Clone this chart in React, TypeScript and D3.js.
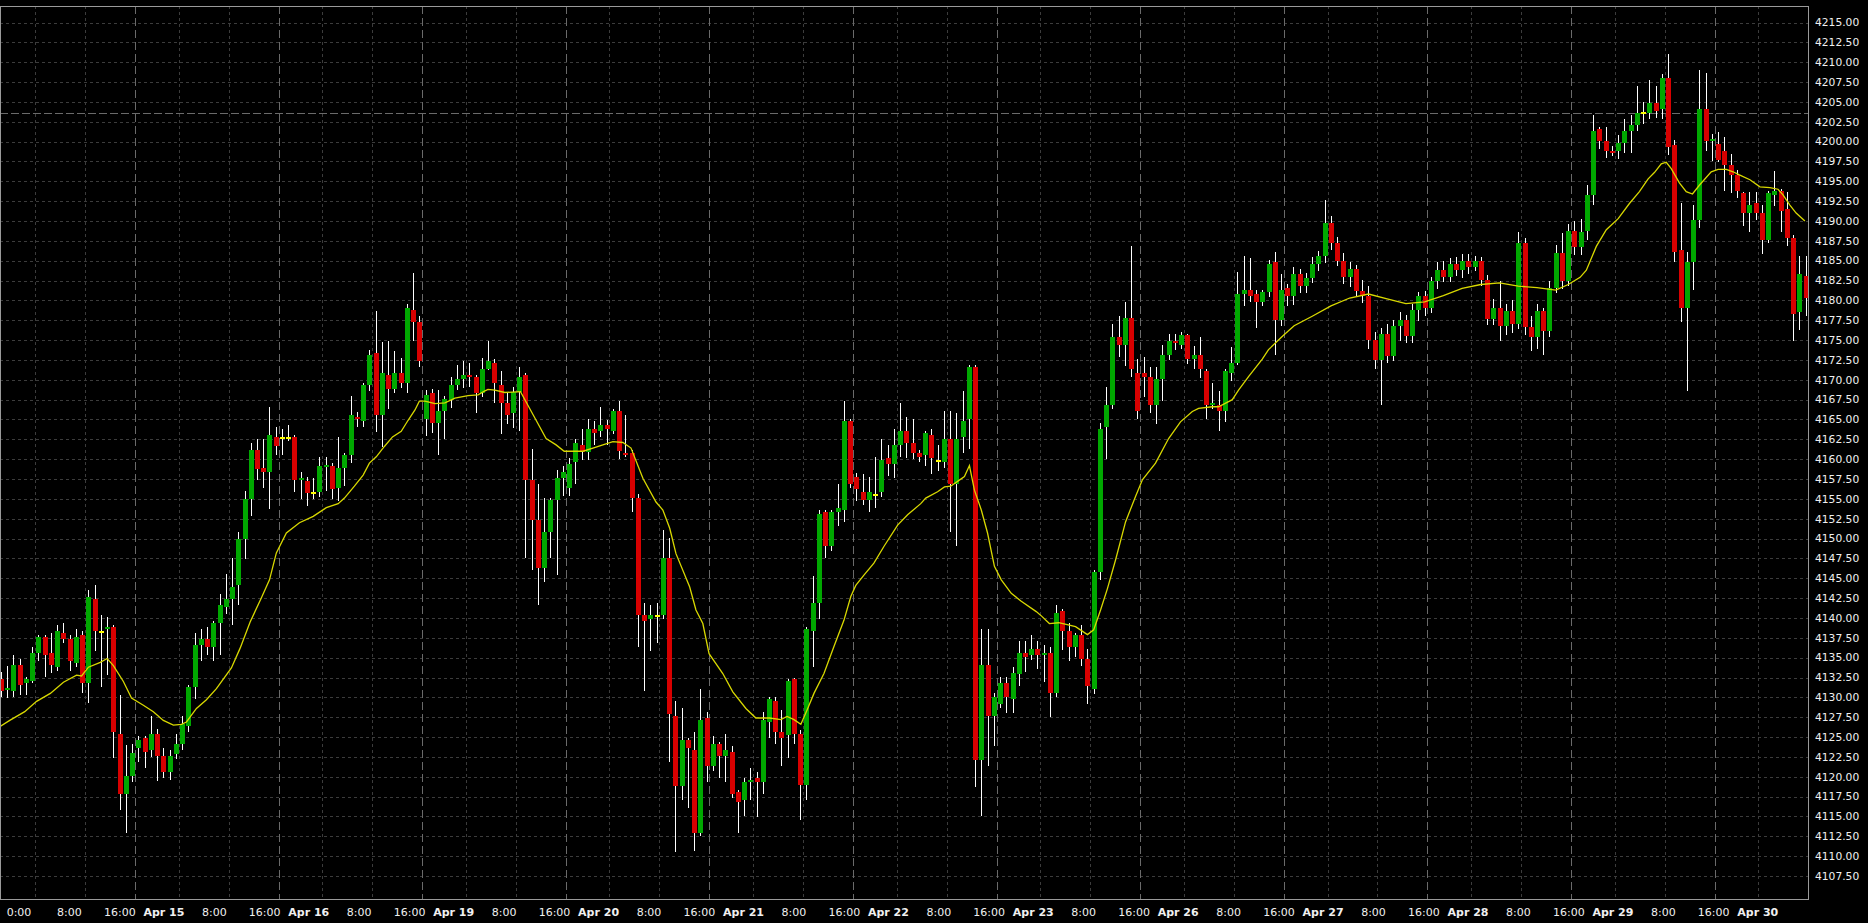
import React from 'react';
import * as d3 from 'd3';

const W = 1868;
const H = 923;
const PLOT_L = 0;
const PLOT_T = 6;
const PLOT_R = 1808;
const PLOT_B = 899;

// ---- OHLC (H1 bars, index 0..289) ----
const opens = [
  4132.3, 4131.0, 4130.8, 4134.1, 4131.8, 4132.1, 4135.6, 4137.6, 4135.6, 4133.8,
  4138.1, 4137.4, 4134.3, 4137.9, 4131.8, 4142.4, 4138.2, 4138.7, 4138.9, 4125.4,
  4117.8, 4120.1, 4123.6, 4124.9, 4123.4, 4125.4, 4122.6, 4120.6, 4122.9, 4124.1,
  4126.4, 4131.3, 4136.6, 4137.4, 4136.3, 4139.4, 4141.4, 4142.4, 4144.2, 4150.0,
  4155.0, 4161.2, 4158.9, 4158.4, 4162.8, 4162.7, 4162.7, 4162.8, 4157.4, 4157.2,
  4155.8, 4155.9, 4159.1, 4159.2, 4156.4, 4158.9, 4160.5, 4165.3, 4164.8, 4169.4,
  4173.4, 4165.6, 4170.6, 4168.9, 4170.9, 4169.6, 4178.8, 4177.3, 4165.1, 4168.3,
  4164.6, 4166.1, 4167.5, 4169.4, 4170.1, 4170.6, 4170.4, 4168.3, 4171.4, 4172.1,
  4169.4, 4167.1, 4165.8, 4168.5, 4170.6, 4157.4, 4152.3, 4146.3, 4150.8, 4154.9,
  4157.6, 4156.4, 4159.6, 4161.8, 4160.9, 4163.8, 4163.5, 4164.3, 4163.5, 4166.1,
  4160.8, 4160.8, 4155.1, 4140.4, 4139.9, 4140.3, 4140.4, 4147.6, 4127.7, 4118.8,
  4124.6, 4123.4, 4112.9, 4127.4, 4121.4, 4124.1, 4122.6, 4123.1, 4118.1, 4117.1,
  4119.4, 4119.9, 4119.4, 4126.9, 4129.5, 4125.7, 4125.2, 4132.3, 4125.4, 4118.9,
  4138.4, 4141.9, 4153.3, 4149.1, 4153.3, 4153.6, 4164.8, 4157.7, 4155.9, 4154.9,
  4155.5, 4155.9, 4160.1, 4159.4, 4161.8, 4163.6, 4162.0, 4160.8, 4160.5, 4163.0,
  4159.8, 4159.6, 4162.5, 4156.9, 4162.8, 4165.1, 4171.6, 4122.1, 4134.1, 4127.7,
  4129.2, 4131.8, 4129.8, 4132.9, 4135.6, 4135.3, 4136.1, 4135.3, 4135.6, 4130.6,
  4140.9, 4138.4, 4136.3, 4137.9, 4134.8, 4131.1, 4145.8, 4164.0, 4166.8, 4175.4,
  4174.4, 4177.8, 4170.9, 4170.9, 4170.4, 4166.8, 4170.1, 4173.1, 4174.9, 4174.4,
  4175.6, 4172.6, 4173.1, 4171.1, 4166.8, 4166.8, 4166.1, 4170.9, 4172.1, 4180.8,
  4181.3, 4180.8, 4179.8, 4181.1, 4184.8, 4177.5, 4181.6, 4180.6, 4183.3, 4181.8,
  4182.8, 4184.6, 4185.6, 4189.8, 4187.2, 4185.0, 4183.0, 4184.0, 4181.2, 4180.5,
  4175.0, 4172.5, 4175.8, 4173.0, 4176.8, 4177.5, 4175.5, 4178.8, 4180.5, 4179.0,
  4182.5, 4183.8, 4183.0, 4184.6, 4183.8, 4184.9, 4184.2, 4185.0, 4182.6, 4177.6,
  4179.0, 4176.8, 4178.6, 4177.0, 4187.2, 4176.6, 4175.4, 4178.6, 4176.2, 4181.5,
  4186.0, 4182.5, 4188.8, 4186.7, 4188.7, 4193.3, 4201.6, 4200.1, 4198.8, 4198.8,
  4199.8, 4201.3, 4202.1, 4203.6, 4203.6, 4204.9, 4204.1, 4208.0, 4199.6, 4186.4,
  4179.0, 4184.8, 4190.1, 4204.1, 4200.1, 4199.7, 4198.8, 4197.1, 4195.8, 4193.5,
  4191.0, 4192.3, 4191.0, 4187.6, 4193.3, 4193.8, 4191.5, 4187.9, 4178.5, 4183.1,
];

const highs = [
  4133.2, 4133.9, 4135.3, 4134.8, 4132.6, 4136.3, 4137.9, 4137.9, 4138.1, 4139.1,
  4139.4, 4137.9, 4138.6, 4138.4, 4143.5, 4144.2, 4140.4, 4140.1, 4139.1, 4130.3,
  4124.0, 4124.1, 4125.1, 4125.1, 4127.7, 4126.0, 4123.6, 4123.4, 4125.4, 4127.7,
  4131.6, 4138.1, 4138.6, 4138.9, 4139.6, 4143.0, 4145.5, 4147.5, 4150.8, 4156.0,
  4162.0, 4162.5, 4162.5, 4166.6, 4164.1, 4163.8, 4164.3, 4163.0, 4158.4, 4157.8,
  4157.6, 4160.3, 4160.3, 4159.5, 4162.8, 4160.8, 4167.9, 4165.9, 4169.6, 4173.7,
  4178.6, 4174.7, 4174.9, 4173.6, 4172.7, 4179.6, 4183.5, 4178.0, 4168.7, 4168.8,
  4168.7, 4167.9, 4170.4, 4171.9, 4172.4, 4172.1, 4170.6, 4172.8, 4174.9, 4172.6,
  4171.1, 4168.3, 4169.1, 4171.6, 4170.9, 4161.3, 4156.9, 4155.1, 4155.1, 4158.6,
  4159.1, 4160.1, 4162.5, 4163.8, 4165.1, 4164.8, 4166.6, 4164.9, 4166.3, 4167.3,
  4165.6, 4161.2, 4155.6, 4141.9, 4141.6, 4141.9, 4151.1, 4150.1, 4129.5, 4128.6,
  4124.9, 4125.6, 4131.1, 4128.1, 4125.1, 4124.4, 4125.4, 4123.9, 4118.3, 4119.9,
  4121.1, 4120.6, 4128.1, 4130.1, 4130.1, 4128.4, 4132.3, 4132.5, 4125.9, 4138.9,
  4145.3, 4153.6, 4153.6, 4153.6, 4156.9, 4167.3, 4165.1, 4158.2, 4158.1, 4157.7,
  4160.3, 4162.6, 4161.8, 4163.8, 4167.1, 4165.3, 4165.1, 4161.2, 4163.6, 4163.8,
  4161.8, 4166.1, 4166.1, 4165.8, 4168.6, 4171.9, 4171.9, 4138.6, 4138.6, 4130.5,
  4132.6, 4132.6, 4133.8, 4137.1, 4137.1, 4137.8, 4137.1, 4136.6, 4136.3, 4141.6,
  4141.1, 4139.4, 4138.1, 4139.1, 4136.1, 4146.0, 4164.5, 4169.1, 4177.0, 4178.0,
  4179.8, 4186.8, 4172.6, 4172.9, 4171.6, 4171.6, 4174.4, 4175.8, 4175.8, 4176.0,
  4175.8, 4174.2, 4175.4, 4171.4, 4169.6, 4168.6, 4171.4, 4174.1, 4183.6, 4185.6,
  4185.3, 4181.3, 4181.3, 4185.1, 4186.1, 4183.3, 4182.1, 4184.2, 4184.0, 4183.5,
  4185.5, 4186.2, 4192.6, 4190.6, 4188.0, 4186.0, 4184.8, 4184.5, 4182.6, 4181.8,
  4176.0, 4176.5, 4177.0, 4177.5, 4178.5, 4178.2, 4179.5, 4181.0, 4181.2, 4183.0,
  4184.8, 4185.0, 4185.3, 4185.5, 4185.8, 4185.8, 4185.6, 4185.5, 4183.2, 4180.2,
  4182.5, 4179.6, 4180.0, 4188.6, 4187.8, 4178.0, 4179.5, 4179.0, 4182.5, 4187.0,
  4188.5, 4189.6, 4190.0, 4190.2, 4194.5, 4203.4, 4201.8, 4201.8, 4199.5, 4200.8,
  4202.9, 4203.4, 4207.0, 4205.0, 4207.8, 4207.0, 4208.5, 4211.0, 4200.2, 4192.3,
  4186.1, 4192.0, 4209.0, 4208.6, 4201.0, 4201.2, 4200.6, 4198.5, 4196.4, 4193.7,
  4193.7, 4193.7, 4192.0, 4193.8, 4196.3, 4194.0, 4193.7, 4188.2, 4185.6, 4185.6,
];

const lows = [
  4130.2, 4130.0, 4130.2, 4130.4, 4130.4, 4131.9, 4134.7, 4132.7, 4133.2, 4133.5,
  4137.0, 4133.4, 4134.0, 4130.7, 4129.4, 4136.0, 4131.4, 4133.0, 4122.5, 4115.9,
  4113.0, 4119.5, 4122.0, 4121.2, 4122.6, 4119.6, 4120.0, 4119.7, 4122.3, 4123.5,
  4125.8, 4129.9, 4134.7, 4135.5, 4134.7, 4135.5, 4140.6, 4139.3, 4141.8, 4147.5,
  4153.0, 4157.5, 4156.5, 4153.8, 4160.7, 4160.7, 4162.4, 4156.0, 4155.1, 4154.2,
  4155.1, 4155.3, 4156.1, 4155.1, 4154.9, 4156.8, 4159.6, 4164.2, 4164.2, 4168.7,
  4163.5, 4161.7, 4166.5, 4168.5, 4169.1, 4168.5, 4175.0, 4171.7, 4163.0, 4163.4,
  4160.7, 4162.7, 4166.6, 4168.9, 4169.1, 4169.2, 4166.0, 4168.0, 4171.3, 4167.2,
  4163.3, 4164.6, 4164.0, 4163.7, 4147.7, 4146.2, 4141.8, 4144.6, 4147.7, 4145.5,
  4155.5, 4155.5, 4157.0, 4160.0, 4160.0, 4161.9, 4162.9, 4161.9, 4163.3, 4160.2,
  4160.4, 4153.5, 4136.5, 4130.9, 4136.0, 4137.0, 4140.0, 4122.0, 4110.6, 4117.2,
  4116.2, 4110.8, 4112.7, 4119.5, 4120.8, 4120.0, 4119.5, 4117.5, 4113.1, 4115.2,
  4117.2, 4115.0, 4118.0, 4125.0, 4124.3, 4121.5, 4122.5, 4124.3, 4114.7, 4117.2,
  4134.0, 4140.0, 4147.7, 4148.5, 4151.7, 4152.2, 4156.5, 4154.9, 4154.3, 4153.5,
  4154.0, 4155.3, 4158.0, 4157.8, 4160.4, 4160.3, 4160.2, 4159.8, 4159.3, 4158.3,
  4158.6, 4159.0, 4151.0, 4149.2, 4160.9, 4161.4, 4118.8, 4115.2, 4121.5, 4124.0,
  4128.8, 4128.1, 4128.1, 4131.5, 4133.3, 4134.8, 4133.7, 4132.0, 4127.6, 4130.2,
  4136.1, 4134.7, 4135.2, 4134.1, 4129.3, 4130.5, 4144.9, 4160.2, 4166.5, 4173.0,
  4171.8, 4170.5, 4165.2, 4168.0, 4165.9, 4164.5, 4167.5, 4172.6, 4173.9, 4174.0,
  4172.1, 4171.5, 4170.4, 4165.2, 4166.4, 4163.7, 4164.8, 4170.0, 4172.0, 4179.4,
  4179.9, 4176.7, 4179.4, 4180.6, 4173.2, 4176.9, 4179.4, 4179.5, 4181.0, 4181.0,
  4182.3, 4183.8, 4184.8, 4186.5, 4184.5, 4182.2, 4181.8, 4180.5, 4179.8, 4174.0,
  4171.5, 4167.0, 4172.2, 4172.5, 4175.0, 4174.8, 4174.8, 4177.5, 4178.2, 4178.5,
  4181.5, 4182.5, 4182.4, 4183.2, 4183.0, 4183.5, 4183.8, 4182.0, 4177.0, 4177.0,
  4175.0, 4175.8, 4176.0, 4176.5, 4175.8, 4173.8, 4174.0, 4173.2, 4175.5, 4181.0,
  4181.5, 4182.0, 4185.8, 4185.9, 4187.7, 4192.2, 4199.2, 4198.0, 4198.3, 4197.9,
  4198.7, 4198.7, 4201.5, 4202.4, 4203.0, 4203.1, 4203.0, 4198.4, 4185.0, 4177.4,
  4168.7, 4181.4, 4189.3, 4199.0, 4197.7, 4197.6, 4193.9, 4193.7, 4193.0, 4189.5,
  4188.8, 4190.3, 4186.0, 4187.3, 4192.0, 4188.7, 4187.0, 4175.0, 4176.4, 4178.2,
];

const closes = [
  4130.8, 4131.2, 4134.1, 4131.6, 4132.3, 4135.6, 4137.6, 4135.3, 4134.1, 4138.4,
  4137.4, 4134.6, 4137.6, 4131.8, 4142.6, 4138.4, 4138.2, 4138.9, 4125.6, 4117.8,
  4120.1, 4123.0, 4124.6, 4123.1, 4125.4, 4122.6, 4120.6, 4122.6, 4124.1, 4126.6,
  4131.3, 4136.6, 4137.4, 4136.3, 4139.4, 4141.6, 4142.4, 4143.9, 4150.0, 4155.0,
  4161.2, 4158.8, 4158.4, 4163.1, 4161.6, 4162.7, 4162.7, 4157.4, 4157.6, 4155.7,
  4155.8, 4159.2, 4159.3, 4156.2, 4158.9, 4160.5, 4165.6, 4165.1, 4169.4, 4173.1,
  4165.6, 4170.9, 4168.9, 4170.9, 4169.6, 4179.0, 4177.3, 4172.4, 4168.1, 4164.6,
  4166.1, 4167.6, 4169.4, 4170.1, 4170.6, 4170.4, 4168.3, 4171.4, 4172.4, 4169.6,
  4167.1, 4165.6, 4168.5, 4170.4, 4157.4, 4152.3, 4146.3, 4150.8, 4154.9, 4157.6,
  4158.4, 4159.4, 4162.0, 4160.9, 4163.8, 4163.3, 4164.3, 4163.8, 4166.1, 4161.0,
  4160.5, 4155.1, 4140.4, 4139.6, 4140.4, 4140.3, 4147.6, 4127.9, 4118.8, 4124.6,
  4123.6, 4112.9, 4127.2, 4121.3, 4124.1, 4122.6, 4123.4, 4117.8, 4116.8, 4119.4,
  4119.6, 4119.4, 4127.2, 4129.8, 4125.7, 4124.9, 4132.1, 4125.4, 4118.9, 4138.6,
  4141.9, 4153.1, 4149.1, 4153.3, 4153.8, 4164.8, 4156.9, 4156.2, 4154.9, 4155.9,
  4155.5, 4159.9, 4159.4, 4161.8, 4163.6, 4162.0, 4160.8, 4160.3, 4163.3, 4160.1,
  4159.8, 4162.5, 4156.9, 4162.5, 4164.8, 4171.6, 4122.1, 4134.1, 4127.7, 4130.1,
  4131.8, 4130.1, 4133.1, 4135.6, 4135.1, 4136.1, 4135.3, 4135.6, 4130.6, 4140.6,
  4138.4, 4136.3, 4137.9, 4134.8, 4131.4, 4145.8, 4163.8, 4166.8, 4175.4, 4174.4,
  4177.8, 4171.4, 4166.1, 4170.4, 4166.8, 4170.1, 4173.1, 4174.9, 4174.6, 4175.6,
  4172.6, 4173.1, 4171.4, 4166.8, 4167.1, 4166.1, 4171.1, 4172.1, 4180.8, 4181.3,
  4180.6, 4179.8, 4181.1, 4184.6, 4177.5, 4181.3, 4180.6, 4183.3, 4181.8, 4182.8,
  4184.6, 4185.6, 4189.8, 4187.2, 4185.0, 4183.0, 4184.0, 4181.2, 4180.5, 4175.0,
  4172.5, 4175.8, 4173.0, 4176.8, 4177.5, 4175.5, 4178.8, 4180.5, 4179.0, 4182.5,
  4183.8, 4183.0, 4184.6, 4183.8, 4184.9, 4184.2, 4185.0, 4182.6, 4177.6, 4179.0,
  4176.8, 4178.6, 4177.0, 4187.2, 4176.6, 4175.4, 4178.6, 4176.2, 4181.5, 4186.0,
  4182.5, 4188.8, 4186.7, 4188.6, 4193.3, 4201.3, 4200.1, 4198.8, 4198.6, 4199.8,
  4201.3, 4202.1, 4203.6, 4203.6, 4204.9, 4203.9, 4208.0, 4199.3, 4186.1, 4179.0,
  4184.8, 4190.1, 4204.1, 4200.1, 4200.3, 4197.7, 4197.1, 4195.8, 4193.8, 4191.0,
  4192.0, 4191.0, 4187.6, 4193.5, 4193.8, 4191.3, 4187.9, 4178.3, 4183.3, 4180.3,
];

// ---- Moving average line (bar index, price) ----
const maIndex = [
  -0.2, 1.4, 3.8, 5.7, 7.9, 10.0, 12.1, 12.9, 14.0, 15.9, 17.0, 18.0, 19.6, 20.9, 22.8, 24.4, 26.0, 27.6, 28.9, 29.7,
  31.3, 32.9, 34.5, 36.9, 38.3, 39.9, 41.8, 43.0, 44.1, 45.7, 47.8, 50.0, 52.1, 54.0, 55.0, 56.6, 58.0, 59.0, 60.1, 61.4,
  62.7, 64.1, 65.2, 66.3, 67.0, 67.9, 69.5, 71.1, 72.7, 74.8, 76.4, 77.5, 78.0, 79.1, 80.7, 83.2, 84.1, 85.7, 87.3, 88.9,
  90.2, 91.8, 93.2, 94.8, 96.4, 98.0, 99.6, 100.9, 102.8, 104.9, 106.0, 107.1, 108.1, 110.3, 111.3, 112.4, 113.4, 115.6, 117.2, 119.3,
  120.9, 123.1, 124.9, 125.9, 127.0, 128.1, 129.1, 130.2, 131.8, 133.4, 135.0, 136.1, 136.9, 138.2, 139.8, 141.4, 143.6, 145.2, 147.3, 148.1,
  150.0, 151.1, 152.1, 153.2, 154.3, 155.1, 155.9, 157.0, 158.0, 159.1, 160.2, 161.8, 163.4, 165.8, 166.7, 167.9, 169.4, 172.1, 174.0, 175.0,
  176.1, 177.2, 178.5, 180.1, 181.7, 182.8, 184.9, 187.0, 188.9, 190.8, 191.8, 194.0, 195.0, 197.2, 198.2, 199.8, 202.0, 203.0, 204.6, 205.4,
  207.1, 210.0, 213.0, 216.0, 219.0, 222.0, 225.0, 228.0, 231.0, 234.0, 237.0, 240.0, 243.0, 246.0, 249.0, 251.0, 252.9, 253.9, 255.5, 257.1,
  259.0, 260.8, 262.4, 263.8, 264.8, 265.9, 266.7, 267.5, 268.8, 269.9, 270.9, 272.0, 273.9, 275.0, 276.3, 277.4, 278.4, 280.1, 281.7, 283.3,
  284.6, 285.4, 286.5, 287.5, 288.9,
];
const maValue = [
  4126.3, 4127.1, 4128.2, 4129.5, 4130.5, 4131.9, 4132.8, 4132.7, 4133.8, 4134.4, 4134.9, 4134.0, 4132.0, 4129.9, 4129.0, 4128.2, 4127.1, 4126.5, 4126.6, 4126.9,
  4128.6, 4129.7, 4131.1, 4133.7, 4136.2, 4139.5, 4142.7, 4144.8, 4148.2, 4150.7, 4152.0, 4152.8, 4153.9, 4154.4, 4155.1, 4156.6, 4158.0, 4159.5, 4160.3, 4161.6,
  4162.8, 4163.5, 4164.9, 4166.2, 4167.3, 4167.3, 4167.0, 4167.1, 4167.7, 4168.0, 4168.1, 4168.6, 4168.8, 4168.7, 4168.4, 4168.5, 4167.2, 4164.9, 4162.6, 4161.8,
  4161.0, 4161.0, 4161.0, 4161.4, 4161.8, 4162.2, 4162.1, 4161.4, 4157.6, 4154.6, 4153.6, 4151.3, 4148.1, 4143.9, 4141.0, 4139.3, 4135.5, 4133.0, 4130.7, 4128.6,
  4127.4, 4127.4, 4127.2, 4127.6, 4127.2, 4126.6, 4128.4, 4130.5, 4133.0, 4136.4, 4139.7, 4142.7, 4144.1, 4145.4, 4146.9, 4149.0, 4151.7, 4153.0, 4154.4, 4155.1,
  4155.9, 4156.5, 4156.6, 4157.2, 4157.8, 4159.2, 4156.1, 4153.6, 4150.7, 4146.5, 4144.8, 4143.1, 4142.1, 4140.8, 4140.2, 4139.3, 4139.4, 4138.9, 4137.9, 4138.5,
  4141.0, 4143.7, 4147.3, 4152.1, 4155.3, 4157.4, 4159.5, 4162.6, 4164.7, 4166.0, 4166.4, 4166.6, 4166.6, 4167.5, 4168.7, 4170.4, 4172.6, 4173.8, 4175.0, 4175.6,
  4176.8, 4178.0, 4179.3, 4180.3, 4180.8, 4180.2, 4179.6, 4179.8, 4180.6, 4181.5, 4182.0, 4182.2, 4181.8, 4181.6, 4181.3, 4182.0, 4182.9, 4183.8, 4186.8, 4188.9,
  4190.3, 4192.2, 4193.7, 4195.3, 4196.1, 4197.2, 4197.4, 4196.6, 4194.8, 4193.7, 4193.4, 4194.5, 4196.2, 4196.5, 4196.5, 4196.2, 4195.8, 4195.2, 4194.3, 4194.2,
  4194.0, 4193.3, 4192.0, 4191.0, 4190.0,
];

// ---- Axes ----
const priceTicks = [
  4107.5, 4110, 4112.5, 4115, 4117.5, 4120, 4122.5, 4125, 4127.5, 4130,
  4132.5, 4135, 4137.5, 4140, 4142.5, 4145, 4147.5, 4150, 4152.5, 4155,
  4157.5, 4160, 4162.5, 4165, 4167.5, 4170, 4172.5, 4175, 4177.5, 4180,
  4182.5, 4185, 4187.5, 4190, 4192.5, 4195, 4197.5, 4200, 4202.5, 4205,
  4207.5, 4210, 4212.5, 4215,
];

const timeTickIndex = [
  5, 13, 21, 28, 36, 44, 51, 59, 67, 74, 82, 90, 97, 105, 113, 120, 128, 136, 143,
  151, 159, 166, 174, 182, 189, 197, 205, 212, 220, 228, 235, 243, 251, 258, 266, 274, 281,
];
const timeTickLabel = [
  '0:00', '8:00', '16:00', 'Apr 15', '8:00', '16:00', 'Apr 16', '8:00', '16:00', 'Apr 19',
  '8:00', '16:00', 'Apr 20', '8:00', '16:00', 'Apr 21', '8:00', '16:00', 'Apr 22',
  '8:00', '16:00', 'Apr 23', '8:00', '16:00', 'Apr 26', '8:00', '16:00', 'Apr 27',
  '8:00', '16:00', 'Apr 28', '8:00', '16:00', 'Apr 29', '8:00', '16:00', 'Apr 30',
];

const levelPrice = 4203.6;

const FONT = '"DejaVu Sans", Verdana, sans-serif';

export default function App() {
  const n = opens.length;
  const x = d3.scaleLinear().domain([0, n - 1]).range([1, 1805.5]);
  const xLabel = d3.scaleLinear().domain([0, n - 1]).range([-12.5, 1808.2]);
  const y = d3.scaleLinear().domain([4107.5, 4215]).range([876, 22.5]);

  const maLine = d3
    .line()
    .x((d: any) => x(d[0]))
    .y((d: any) => y(d[1]))
    .curve(d3.curveLinear);
  const maPts = maIndex.map((k, i) => [k, maValue[i]]);

  const candles = d3.range(n).map((k) => {
    const o = opens[k];
    const c = closes[k];
    const hi = Math.max(highs[k], o, c);
    const lo = Math.min(lows[k], o, c);
    const cx = Math.round(x(k));
    const top = Math.round(y(Math.max(o, c)));
    const bot = Math.round(y(Math.min(o, c)));
    let fill = '#00a800';
    if (c < o) fill = '#d80000';
    if (c === o) fill = '#ffff00';
    const h = Math.max(bot - top, 2);
    return (
      <g key={k}>
        <line x1={cx + 0.5} x2={cx + 0.5} y1={Math.round(y(hi))} y2={Math.round(y(lo)) + 1} stroke="#ffffff" strokeWidth={1} />
        <rect x={cx - 2} y={c === o ? top - 1 : top} width={5} height={h} fill={fill} />
      </g>
    );
  });

  return (
    <svg
      width={W}
      height={H}
      style={{ position: 'absolute', left: 0, top: 0, display: 'block', background: '#000' }}
      xmlns="http://www.w3.org/2000/svg"
    >
      <defs>
        <clipPath id="plotClip">
          <rect x={PLOT_L} y={PLOT_T} width={PLOT_R - PLOT_L} height={PLOT_B - PLOT_T} />
        </clipPath>
      </defs>
      <rect x={0} y={0} width={W} height={H} fill="#000" />

      {/* horizontal grid */}
      {priceTicks.map((p) => (
        <line
          key={'hg' + p}
          x1={PLOT_L}
          x2={PLOT_R}
          y1={Math.round(y(p)) + 0.5}
          y2={Math.round(y(p)) + 0.5}
          stroke="#3c3c3c"
          strokeWidth={1}
          strokeDasharray="3,3"
        />
      ))}

      {/* vertical grid */}
      {timeTickIndex.map((k, i) => {
        const gx = Math.round(x(k + 0.45)) + 0.5;
        const strong = timeTickLabel[i] === '16:00';
        return (
          <line
            key={'vg' + k}
            x1={gx}
            x2={gx}
            y1={PLOT_T}
            y2={PLOT_B}
            stroke={strong ? '#6a6a6a' : '#3c3c3c'}
            strokeWidth={1}
            strokeDasharray={strong ? '8,4' : '3,3'}
          />
        );
      })}

      {/* level line */}
      <line
        x1={PLOT_L}
        x2={PLOT_R}
        y1={Math.round(y(levelPrice)) + 0.5}
        y2={Math.round(y(levelPrice)) + 0.5}
        stroke="#6a6a6a"
        strokeWidth={1}
        strokeDasharray="8,3"
      />

      <g clipPath="url(#plotClip)">
        {candles}
        <path d={maLine(maPts as any) || ''} fill="none" stroke="#d8d800" strokeWidth={1.3} />
      </g>

      {/* border */}
      <rect
        x={PLOT_L + 0.5}
        y={PLOT_T + 0.5}
        width={PLOT_R - PLOT_L}
        height={PLOT_B - PLOT_T}
        fill="none"
        stroke="#9a9a9a"
        strokeWidth={1}
      />

      {/* price labels */}
      {priceTicks.map((p) => (
        <text
          key={'pl' + p}
          x={1815}
          y={y(p) + 3.8}
          fill="#f0f0f0"
          fontFamily={FONT}
          fontSize={10.7}
        >
          {p.toFixed(2)}
        </text>
      ))}

      {/* time labels */}
      {timeTickIndex.map((k, i) => {
        const lbl = timeTickLabel[i];
        const bold = lbl.startsWith('Apr');
        return (
          <text
            key={'tl' + i}
            x={xLabel(k)}
            y={916}
            textAnchor="middle"
            fill="#f0f0f0"
            fontFamily={FONT}
            fontSize={11}
            fontWeight={bold ? 'bold' : 'normal'}
          >
            {lbl}
          </text>
        );
      })}
    </svg>
  );
}
